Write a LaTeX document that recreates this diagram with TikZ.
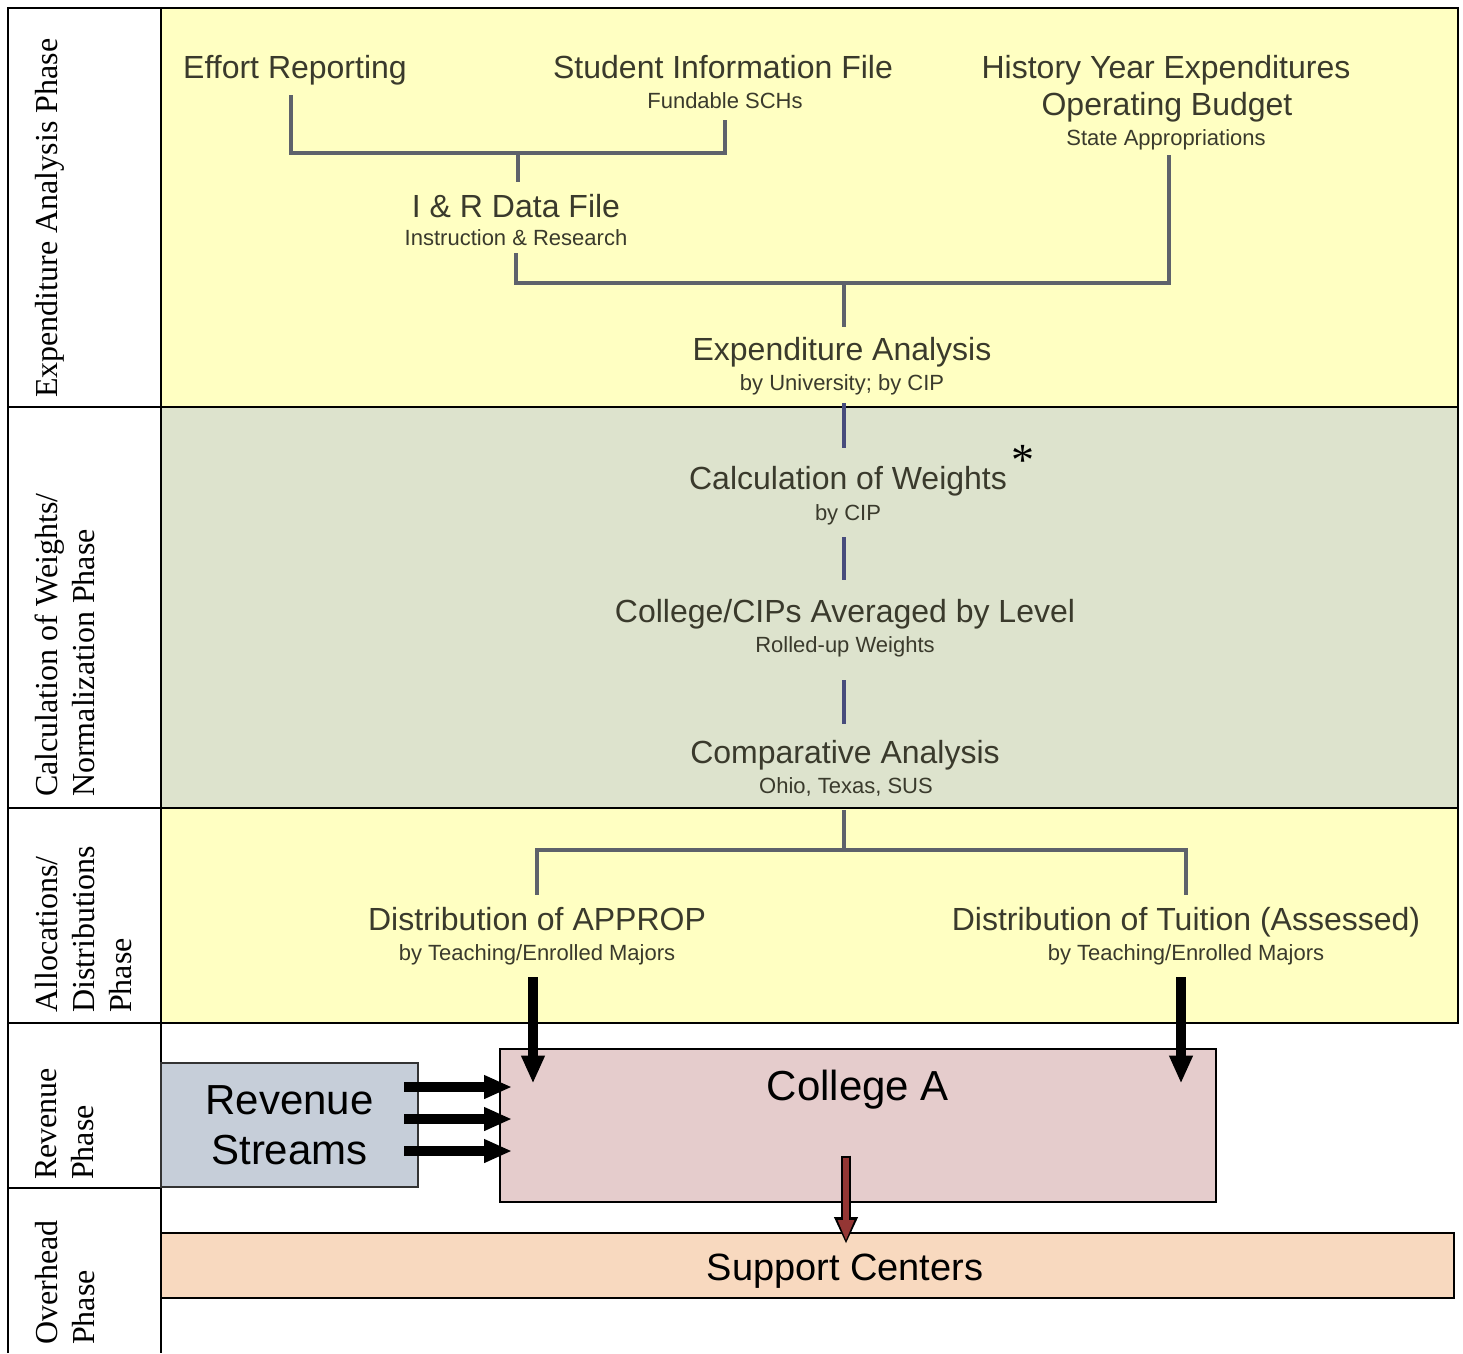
\documentclass[tikz,border=0pt]{standalone}
\usepackage{fontspec}
\setmainfont{Liberation Sans}
\newfontfamily\serifphase{Liberation Serif}
\usetikzlibrary{arrows.meta}
\definecolor{yelbg}{HTML}{FFFFC2}
\definecolor{grnbg}{HTML}{DDE3CD}
\definecolor{revbg}{HTML}{C6CED9}
\definecolor{colbg}{HTML}{E5CCCC}
\definecolor{supbg}{HTML}{F8D9BF}
\definecolor{redarr}{HTML}{943634}
\definecolor{txt}{HTML}{3A3A2C}
\definecolor{greyline}{HTML}{5E626B}
\definecolor{navyline}{HTML}{474C7C}
\begin{document}
\begin{tikzpicture}[x=1pt,y=-1pt,
  title/.style={font=\fontsize{32}{38}\selectfont, text=txt, inner sep=0pt, text height=23pt, text depth=7pt, anchor=base},
  subt/.style={font=\fontsize{22}{26}\selectfont, text=txt, inner sep=0pt, text height=16pt, text depth=5pt, anchor=base},
  phase/.style={font=\serifphase\fontsize{32}{37}\selectfont, rotate=90, anchor=north west, inner sep=0pt, align=left},
  gconn/.style={draw=greyline, line width=4pt},
  nconn/.style={draw=navyline, line width=4pt},
  gridline/.style={line width=2.5pt, black},
  bigarrow/.style={line width=10pt, -{Triangle[length=28pt,width=22pt]}},
  bigtext/.style={font=\fontsize{42}{50}\selectfont, inner sep=0pt},
]
\useasboundingbox (0,0) rectangle (1463,1353);
% phase panels
\fill[yelbg] (161,8) rectangle (1458,407);
\fill[grnbg] (161,407) rectangle (1458,808);
\fill[yelbg] (161,808) rectangle (1458,1023);
% table lines
\draw[gridline] (8,1353) -- (8,8) -- (1458,8) -- (1458,1023) -- (8,1023);
\draw[gridline] (161,8) -- (161,1353);
\draw[gridline] (8,407) -- (1458,407);
\draw[gridline] (8,808) -- (1458,808);
\draw[gridline] (8,1188) -- (161,1188);
% phase labels
\node[phase] (p1) at (35,398) {Expenditure Analysis Phase};
\node[phase] (p2) at (35,797) {Calculation of Weights/\\Normalization Phase};
\node[phase] (p3) at (35,1013) {Allocations/\\Distributions\\Phase};
\node[phase] (p4) at (35,1180) {Revenue\\Phase};
\node[phase] (p5) at (35,1345) {Overhead\\Phase};
% text nodes
\node[title] (effort) at (295,78) {Effort Reporting};
\node[title] (sif) at (723,78) {Student Information File};
\node[subt] (sifs) at (725,108) {Fundable SCHs};
\node[title] (hye) at (1166,78) {History Year Expenditures};
\node[title] (ob) at (1167,115) {Operating Budget};
\node[subt] (sa) at (1166,145) {State Appropriations};
\node[title] (ir) at (516,217) {I \& R Data File};
\node[subt] (irs) at (516,245) {Instruction \& Research};
\node[title] (ea) at (842,360) {Expenditure Analysis};
\node[subt] (eas) at (842,390) {by University; by CIP};
\node[title] (cw) at (848,489) {Calculation of Weights};
\node[subt] (cws) at (848,520) {by CIP};
\node[font=\serifphase\fontsize{46}{46}\selectfont, inner sep=0pt, anchor=base] (ast) at (1023,475) {*};
\node[title] (cc) at (845,622) {College/CIPs Averaged by Level};
\node[subt] (ccs) at (845,652) {Rolled-up Weights};
\node[title] (ca) at (845,763) {Comparative Analysis};
\node[subt] (cas) at (846,793) {Ohio, Texas, SUS};
\node[title] (dap) at (537,930) {Distribution of APPROP};
\node[subt] (daps) at (537,960) {by Teaching/Enrolled Majors};
\node[title] (dtu) at (1186,930) {Distribution of Tuition (Assessed)};
\node[subt] (dtus) at (1186,960) {by Teaching/Enrolled Majors};
% junctions
\coordinate (mid) at (844,0);
\coordinate (j1) at (518,153);
\coordinate (j2) at (844,283);
\coordinate (j3) at (844,850);
% connectors, expenditure phase
\draw[gconn, shorten <=10pt, shorten >=7pt] ([xshift=-4pt]effort.south) |- (j1) -| (sifs.south);
\draw[gconn, shorten >=12pt] (j1) -- (ir.north -| j1);
\draw[gconn, shorten <=3pt, shorten >=5pt] (irs.south) |- (j2) -| ([xshift=3pt]sa.south);
\draw[gconn, shorten >=10pt] (j2) -- (ea.north -| j2);
% connectors, weights phase
\draw[nconn, shorten <=8pt, shorten >=18pt] (eas.south -| mid) -- (cw.north -| mid);
\draw[nconn, shorten <=12pt, shorten >=19pt] (cws.south -| mid) -- (cc.north -| mid);
\draw[nconn, shorten <=23pt, shorten >=16pt] (ccs.south -| mid) -- (ca.north -| mid);
% connectors, allocation phase
\draw[gconn, shorten <=12pt] (cas.south -| mid) -- (j3);
\draw[gconn, shorten <=12pt, shorten >=12pt] (dap.north) |- (j3) -| (dtu.north);
% revenue phase boxes
\node[draw=black!80, line width=2pt, fill=revbg, minimum width=257pt, minimum height=124pt, align=center, bigtext] (rev) at (289.5,1125) {Revenue\\Streams};
\node[draw, line width=2pt, fill=colbg, minimum width=716pt, minimum height=153pt, inner sep=0pt] (college) at (858,1125) {};
\node[bigtext, anchor=base] (collegelbl) at (858,1100) {College A};
% overhead phase
\node[draw, line width=2pt, fill=supbg, minimum width=1293pt, minimum height=65pt, inner sep=0pt] (support) at (807.5,1265.5) {};
\node[font=\fontsize{38}{44}\selectfont, inner sep=0pt, anchor=base] (supportlbl) at (845,1280) {Support Centers};
% arrows
\coordinate (a1) at ([xshift=-4pt]daps.south);
\coordinate (a2) at ([xshift=-5pt]dtus.south);
\draw[bigarrow, shorten <=12pt, shorten >=-36pt] (a1) -- (a1 |- college.north);
\draw[bigarrow, shorten <=12pt, shorten >=-36pt] (a2) -- (a2 |- college.north);
\foreach \dy in {38,6,-26}{
  \draw[bigarrow, shorten <=-15pt, shorten >=-13pt] ([yshift=\dy pt]rev.east) -- ([yshift=\dy pt]college.west);
}
\coordinate (a3) at ([xshift=-12pt]college.south);
\draw[line width=10pt, black, -{Triangle[length=27pt,width=22pt]}, shorten <=-47pt, shorten >=-12pt] (a3) -- (a3 |- support.north);
\draw[line width=5.5pt, redarr, -{Triangle[length=21pt,width=15pt]}, shorten <=-45pt, shorten >=-9pt] (a3) -- (a3 |- support.north);
\end{tikzpicture}
\end{document}
